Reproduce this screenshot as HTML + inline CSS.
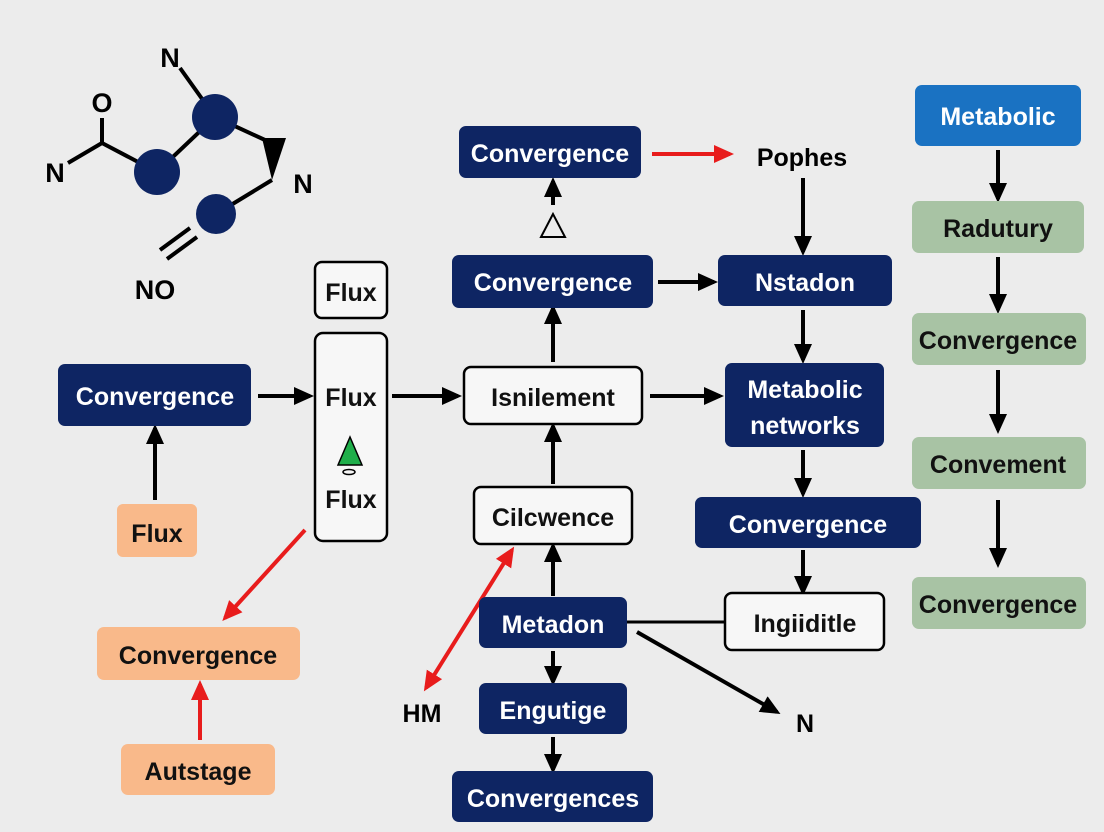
<!DOCTYPE html>
<html><head><meta charset="utf-8"><style>
html,body{margin:0;padding:0;background:#ececec;}
svg{display:block;}
text{font-family:"Liberation Sans",sans-serif;font-weight:bold;}
</style></head><body>
<svg width="1104" height="832" viewBox="0 0 1104 832" xmlns="http://www.w3.org/2000/svg">
<defs>
<marker id="ab" markerWidth="20" markerHeight="20" refX="16" refY="10" orient="auto" markerUnits="userSpaceOnUse" viewBox="0 0 20 20"><path d="M0,1 L20,10 L0,19 z" fill="#000"/></marker>
<marker id="ar" markerWidth="20" markerHeight="20" refX="16" refY="10" orient="auto-start-reverse" markerUnits="userSpaceOnUse" viewBox="0 0 20 20"><path d="M0,1 L20,10 L0,19 z" fill="#e81c1c"/></marker>
</defs>
<rect width="1104" height="832" fill="#ececec"/>
<g stroke="#000" stroke-width="4" fill="none">
<line x1="102" y1="118" x2="102" y2="143"/>
<line x1="102" y1="143" x2="68" y2="163"/>
<line x1="102" y1="143" x2="140" y2="163"/>
<line x1="157" y1="172" x2="215" y2="117"/>
<line x1="215" y1="117" x2="180" y2="68"/>
<line x1="215" y1="117" x2="265" y2="140"/>
<line x1="272" y1="180" x2="226" y2="208"/>
<line x1="190" y1="228" x2="160" y2="250"/>
<line x1="197" y1="237" x2="167" y2="259"/>
</g>
<path d="M262,138 L286,138 L272,180 z" fill="#000"/>
<circle cx="215" cy="117" r="23" fill="#0e2563"/>
<circle cx="157" cy="172" r="23" fill="#0e2563"/>
<circle cx="216" cy="214" r="20" fill="#0e2563"/>
<g font-size="27" fill="#000" text-anchor="middle">
<text x="170" y="67">N</text><text x="102" y="112">O</text><text x="55" y="182">N</text>
<text x="303" y="193">N</text><text x="155" y="299">NO</text>
<text x="422" y="722" font-size="25">HM</text><text x="805" y="732" font-size="25">N</text>
<text x="802" y="166" font-size="25">Pophes</text>
</g>
<g stroke="#000" stroke-width="4" marker-end="url(#ab)">
<line x1="258" y1="396" x2="310" y2="396"/>
<line x1="155" y1="500" x2="155" y2="428"/>
<line x1="392" y1="396" x2="458" y2="396"/>
<line x1="553" y1="484" x2="553" y2="426"/>
<line x1="553" y1="362" x2="553" y2="308"/>
<line x1="553" y1="205" x2="553" y2="181"/>
<line x1="658" y1="282" x2="714" y2="282"/>
<line x1="650" y1="396" x2="720" y2="396"/>
<line x1="803" y1="178" x2="803" y2="252"/>
<line x1="803" y1="310" x2="803" y2="360"/>
<line x1="803" y1="450" x2="803" y2="494"/>
<line x1="803" y1="550" x2="803" y2="592"/>
<line x1="553" y1="596" x2="553" y2="546"/>
<line x1="553" y1="651" x2="553" y2="682"/>
<line x1="553" y1="737" x2="553" y2="770"/>
<line x1="637" y1="632" x2="777" y2="712"/>
<line x1="998" y1="150" x2="998" y2="199"/>
<line x1="998" y1="257" x2="998" y2="310"/>
<line x1="998" y1="370" x2="998" y2="430"/>
<line x1="998" y1="500" x2="998" y2="564"/>
</g>
<line x1="627" y1="622" x2="725" y2="622" stroke="#000" stroke-width="3"/>
<path d="M553,214 L541,237 L565,237 z" fill="none" stroke="#000" stroke-width="2"/>
<g stroke="#e81c1c" stroke-width="4">
<line x1="652" y1="154" x2="730" y2="154" marker-end="url(#ar)"/>
<line x1="305" y1="530" x2="225" y2="618" marker-end="url(#ar)"/>
<line x1="200" y1="740" x2="200" y2="684" marker-end="url(#ar)"/>
<line x1="426" y1="688" x2="512" y2="550" marker-end="url(#ar)" marker-start="url(#ar)"/>
</g>
<g fill="#f7f7f7" stroke="#000" stroke-width="2.5">
<rect x="315" y="262" width="72" height="56" rx="7"/>
<rect x="315" y="333" width="72" height="208" rx="8"/>
<rect x="464" y="367" width="178" height="57" rx="7"/>
<rect x="474" y="487" width="158" height="57" rx="7"/>
<rect x="725" y="593" width="159" height="57" rx="7"/>
</g>
<path d="M350,437 L338,465 L362,465 z" fill="#1fae4a" stroke="#000" stroke-width="1.5"/>
<ellipse cx="349" cy="472" rx="6" ry="2.5" fill="none" stroke="#000" stroke-width="1.5"/>
<g fill="#0e2563">
<rect x="58" y="364" width="193" height="62" rx="7"/>
<rect x="459" y="126" width="182" height="52" rx="7"/>
<rect x="452" y="255" width="201" height="53" rx="7"/>
<rect x="718" y="255" width="174" height="51" rx="7"/>
<rect x="725" y="363" width="159" height="84" rx="7"/>
<rect x="695" y="497" width="226" height="51" rx="7"/>
<rect x="479" y="597" width="148" height="51" rx="7"/>
<rect x="479" y="683" width="148" height="51" rx="7"/>
<rect x="452" y="771" width="201" height="51" rx="7"/>
</g>
<rect x="915" y="85" width="166" height="61" rx="7" fill="#1a72c2"/>
<g fill="#a8c3a4">
<rect x="912" y="201" width="172" height="52" rx="7"/>
<rect x="912" y="313" width="174" height="52" rx="7"/>
<rect x="912" y="437" width="174" height="52" rx="7"/>
<rect x="912" y="577" width="174" height="52" rx="7"/>
</g>
<g fill="#f9b98a">
<rect x="117" y="504" width="80" height="53" rx="6"/>
<rect x="97" y="627" width="203" height="53" rx="7"/>
<rect x="121" y="744" width="154" height="51" rx="7"/>
</g>
<g font-size="25" text-anchor="middle" fill="#fff">
<text x="155" y="405">Convergence</text>
<text x="550" y="162">Convergence</text>
<text x="553" y="291">Convergence</text>
<text x="805" y="291">Nstadon</text>
<text x="805" y="398">Metabolic</text>
<text x="805" y="434">networks</text>
<text x="808" y="533">Convergence</text>
<text x="553" y="633">Metadon</text>
<text x="553" y="719">Engutige</text>
<text x="553" y="807">Convergences</text>
<text x="998" y="125">Metabolic</text>
</g>
<g font-size="25" text-anchor="middle" fill="#111">
<text x="351" y="301">Flux</text>
<text x="351" y="406">Flux</text>
<text x="351" y="508">Flux</text>
<text x="553" y="406">Isnilement</text>
<text x="553" y="526">Cilcwence</text>
<text x="805" y="632">Ingiiditle</text>
<text x="998" y="237">Radutury</text>
<text x="998" y="349">Convergence</text>
<text x="998" y="473">Convement</text>
<text x="998" y="613">Convergence</text>
<text x="157" y="542">Flux</text>
<text x="198" y="664">Convergence</text>
<text x="198" y="780">Autstage</text>
</g>
</svg>
</body></html>
